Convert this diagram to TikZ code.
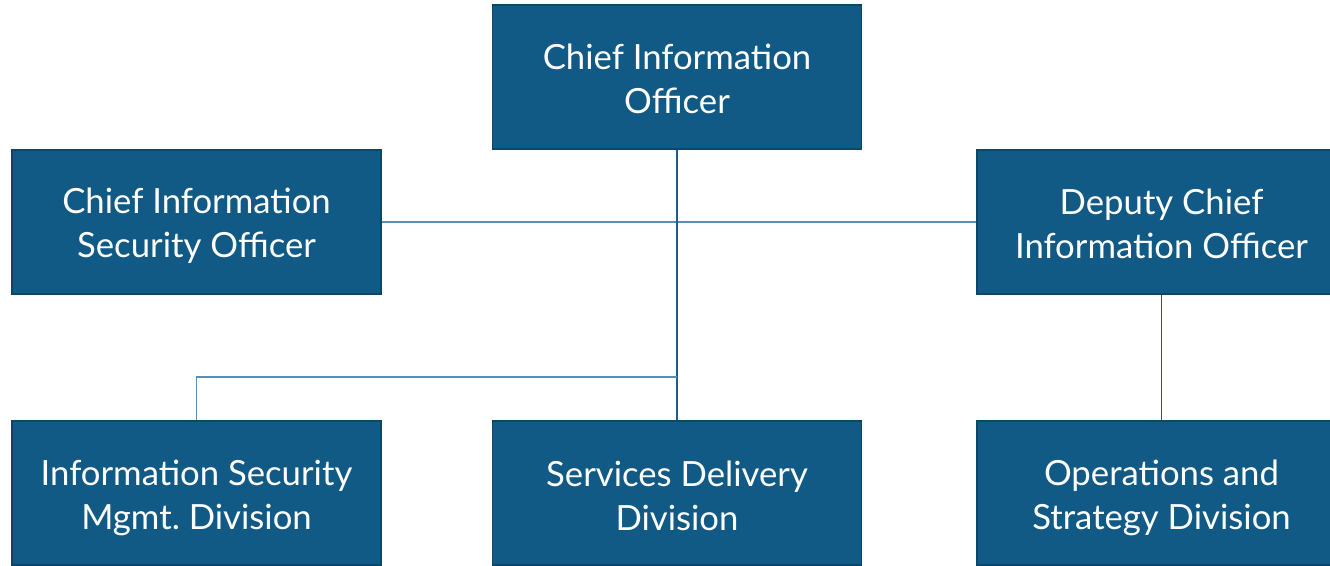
\documentclass[tikz,border=0pt]{standalone}
\usepackage{fontspec}
\setmainfont{Lato}
\definecolor{boxfill}{HTML}{115A86}
\definecolor{boxline}{HTML}{0C4668}
\definecolor{linkdark}{HTML}{1E5E8C}
\definecolor{linklight}{HTML}{5A8FB2}
\begin{document}
\begin{tikzpicture}[x=1pt,y=-1pt,
  orgbox/.style={draw=boxline,line width=1.2pt,fill=boxfill,
    minimum width=369pt,minimum height=144pt,inner sep=0pt},
  boxtext/.style={text=white,align=center,inner sep=0pt,
    font=\fontsize{34.7}{44}\selectfont},
  link/.style={draw=linklight,line width=1.3pt},
  linkd/.style={draw=linkdark,line width=1.5pt}]
\useasboundingbox (0,0) rectangle (1330,565);
\begin{scope}
\clip (0,0) rectangle (1330,565);
\node[orgbox] (cio) at (677,77) {};
\node[orgbox] (ciso) at (196.5,222) {};
\node[orgbox] (dcio) at (1161.5,222) {};
\node[orgbox] (ismd) at (196.5,493) {};
\node[orgbox] (sdd) at (677,493) {};
\node[orgbox] (osd) at (1161.5,493) {};
\node[boxtext,yshift=-2pt] (ciot) at (cio) {Chief Information\\Officer};
\node[boxtext,yshift=-4pt] (cisot) at (ciso) {Chief Information\\Security Officer};
\node[boxtext,yshift=-1.5pt] (dciot) at (dcio) {Deputy Chief\\Information Officer};
\node[boxtext,yshift=-5pt] (ismdt) at (ismd) {Information Security\\Mgmt.\ Division};
\node[boxtext,yshift=-3pt] (sddt) at (sdd) {Services Delivery\\Division};
\node[boxtext,yshift=-5pt] (osdt) at (osd) {Operations and\\Strategy Division};
\coordinate (elbow) at (677,377);
\draw[link] (ciso.east) -- (dcio.west);
\draw[linkd] (cio.south) -- (sdd.north);
\draw[link] (elbow) -| (ismd.north);
\draw[linkd] (dcio.south) -- (osd.north);
\end{scope}
\end{tikzpicture}
\end{document}
